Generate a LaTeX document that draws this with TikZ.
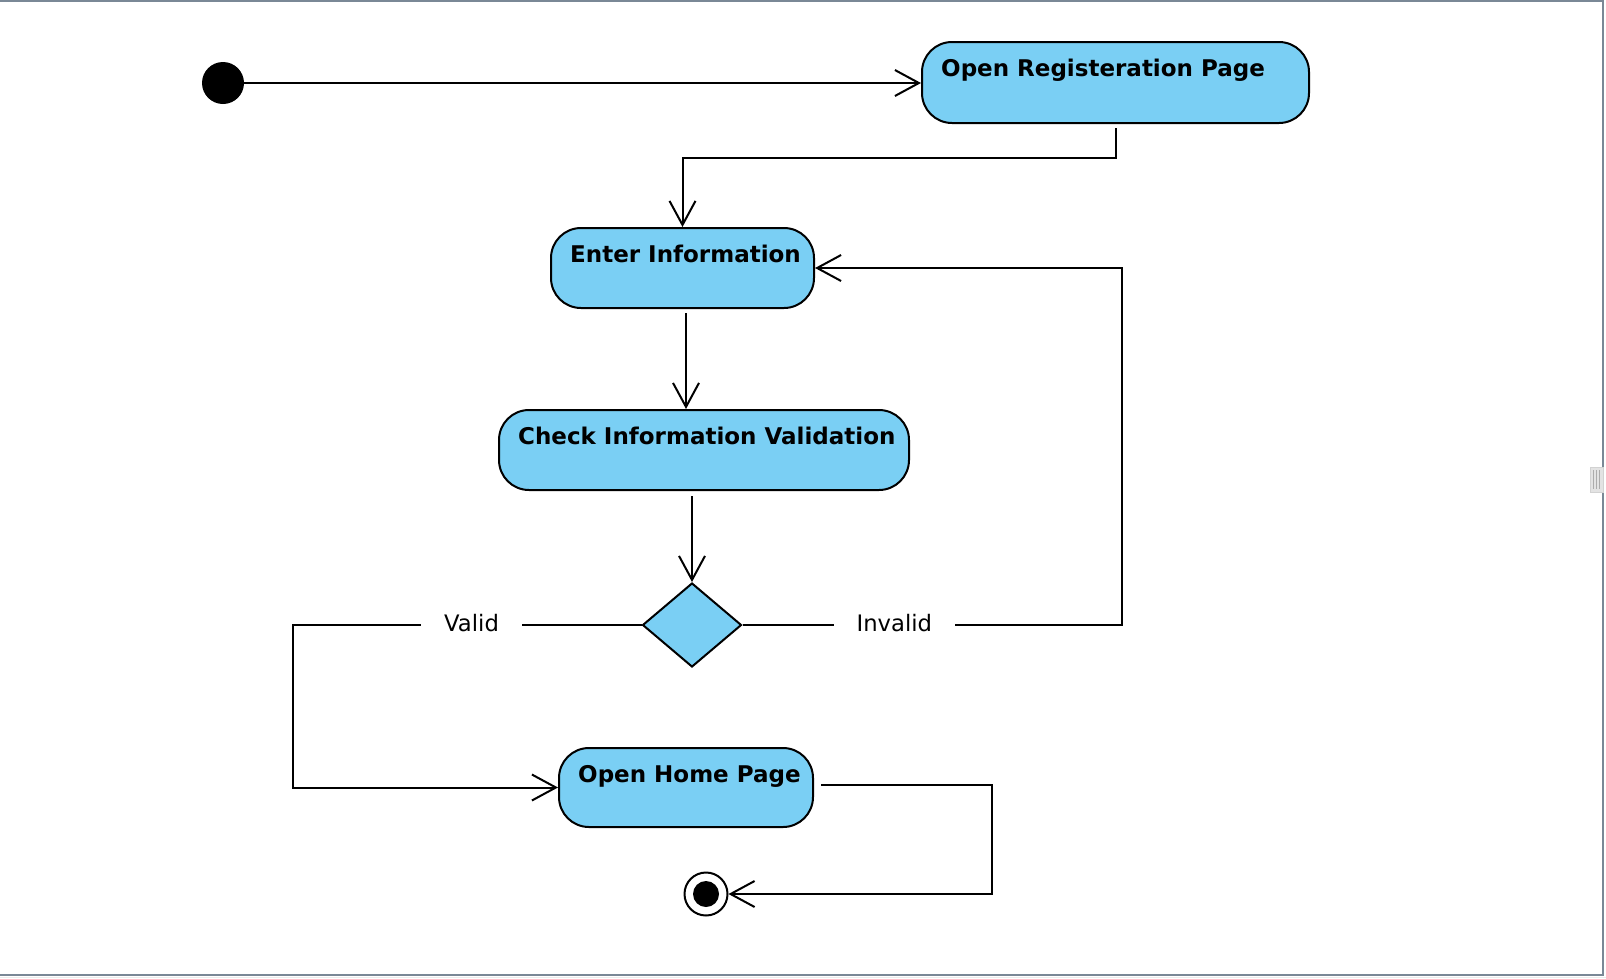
\documentclass[tikz,border=0pt]{standalone}
\usepackage{fontspec}
\setmainfont{DejaVu Sans}
\usetikzlibrary{arrows.meta,shapes.geometric,calc}
\definecolor{actfill}{RGB}{122,207,244}
\definecolor{framegray}{RGB}{122,136,150}
\begin{document}
\begin{tikzpicture}[x=1pt,y=-1pt,
  act/.style={draw=black, line width=2pt, fill=actfill, rounded corners=30pt, inner sep=0pt},
  acttext/.style={anchor=base west, inner sep=0pt, font=\fontsize{23}{27}\selectfont\bfseries},
  flow/.style={draw=black, line width=2pt, line join=miter, -{Straight Barb[length=24pt,width=26pt]}},
  guard/.style={fill=white, inner xsep=23pt, inner ysep=2pt, yshift=2pt, font=\fontsize{22.7}{27}\selectfont}
]
\useasboundingbox (0,0) rectangle (1606,978);
\fill[white] (0,0) rectangle (1606,978);
% window frame
\draw[framegray, line width=2pt] (0,1) -- (1603,1) -- (1603,975) -- (0,975);
\draw[gray!15, line width=1.5pt] (0,977.3) -- (1606,977.3);
\filldraw[fill=gray!22, draw=gray!35, line width=0.8pt] (1590,467) rectangle (1603,492);
\foreach \hx in {1593.5,1596.5,1599.5}
  \draw[gray!65, line width=0.9pt] (\hx,470) -- (\hx,489);

% nodes
\node[circle, fill=black, minimum size=42pt, inner sep=0pt] (init) at (223,83) {};
\node[act, minimum width=387pt, minimum height=81pt] (orp) at (1115.5,82.5) {};
\node[acttext] (orpT) at ($(orp.north west)+(20,35.5)$) {Open Registeration Page};
\node[act, minimum width=263pt, minimum height=80pt] (ei) at (682.5,268) {};
\node[acttext] (eiT) at ($(ei.north west)+(20,35.5)$) {Enter Information};
\node[act, minimum width=410pt, minimum height=80pt] (civ) at (704,450) {};
\node[acttext] (civT) at ($(civ.north west)+(20,35.5)$) {Check Information Validation};
\node[diamond, draw=black, line width=2pt, fill=actfill, minimum width=99pt, minimum height=84pt, inner sep=0pt] (dec) at (692,625) {};
\node[act, minimum width=254pt, minimum height=79pt] (ohp) at (686,787.5) {};
\node[acttext] (ohpT) at ($(ohp.north west)+(20,35.5)$) {Open Home Page};
\node[circle, draw=black, fill=white, line width=2pt, minimum size=43pt, inner sep=0pt] (final) at (706,894) {};
\node[circle, fill=black, minimum size=26pt, inner sep=0pt] (finalIn) at (final.center) {};

% connectors
\draw[flow] (init.east) -- (init.east -| orp.west);
\draw[flow] ([yshift=-4pt]orp.south) -- ++(0,30) -| (ei.north);
\coordinate (eiOut) at ($(ei.south)+(3.5,4)$);
\draw[flow] (eiOut) -- (eiOut |- civ.north);
\coordinate (civOut) at ($(dec.north |- civ.south)+(0,5)$);
\draw[flow] (civOut) -- (dec.north);
\draw[flow] (dec.west) -- node[guard, pos=0.487] (validL) {Valid} ++(-349,0) |- (ohp.west);
\draw[flow] (dec.east) -- node[guard, pos=0.4] (invalidL) {Invalid} ++(379.5,0) |- (ei.east);
\coordinate (ohpOut) at ($(ohp.east)+(7,-3)$);
\draw[flow] (ohpOut) -- ++(171,0) |- (final.east);
\end{tikzpicture}
\end{document}
